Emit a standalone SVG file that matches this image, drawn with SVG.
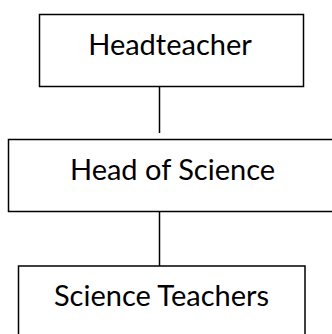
<svg xmlns="http://www.w3.org/2000/svg" width="332" height="334" viewBox="0 0 332 334">
<style>
.box{fill:#fff;stroke:#000;stroke-width:1.5}
.lbl{font-family:Lato,"Liberation Sans",sans-serif;font-size:29px;fill:#000;text-anchor:middle}
.conn{stroke:#000;stroke-width:1.5;fill:none}
</style>
<rect width="332" height="334" fill="#fff"/>
<g id="connectors">
<line class="conn" x1="159.5" y1="86" x2="159.5" y2="133"/>
<line class="conn" x1="159.5" y1="211" x2="159.5" y2="266"/>
</g>
<g id="headteacher">
<rect class="box" x="39.5" y="14.5" width="264" height="72"/>
<text class="lbl" x="170" y="55">Headteacher</text>
</g>
<g id="head-of-science">
<rect class="box" x="8.5" y="139.5" width="340" height="72"/>
<text class="lbl" x="172.5" y="180">Head of Science</text>
</g>
<g id="science-teachers">
<rect class="box" x="18.5" y="266" width="286.5" height="90"/>
<text class="lbl" x="161.5" y="306">Science Teachers</text>
</g>
</svg>
